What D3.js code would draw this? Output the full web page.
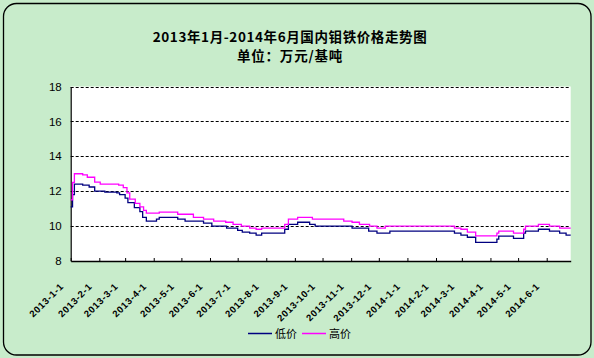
<!DOCTYPE html>
<html>
<head>
<meta charset="utf-8">
<script src="https://cdn.jsdelivr.net/npm/d3@7"></script>
<style>
  html, body { margin: 0; padding: 0; background: #C8ECCB; }
  svg { display: block; }
</style>
</head>
<body>
<svg id="chart" width="594" height="358"></svg>
<script>
// ---- data ----
const titleLine1 = "2013年1月-2014年6月国内钼铁价格走势图";
const titleLine2 = "单位：万元/基吨";
const seriesNames = ["低价", "高价"];
const seriesColors = ["#000080", "#FF00FF"];

const dates = [
  "2013-01-01","2013-01-03","2013-01-05","2013-01-14","2013-01-19","2013-01-21","2013-01-27",
  "2013-02-02","2013-02-07","2013-02-20","2013-02-22","2013-02-23","2013-02-27",
  "2013-03-01","2013-03-03","2013-03-04","2013-03-06","2013-03-11","2013-03-12","2013-03-17",
  "2013-03-20","2013-03-21","2013-03-24","2013-04-04","2013-04-07","2013-04-27",
  "2013-05-05","2013-05-14","2013-05-25","2013-06-03","2013-06-05","2013-06-18","2013-06-19",
  "2013-06-26","2013-07-01","2013-07-05","2013-07-06","2013-07-14","2013-07-21","2013-07-27",
  "2013-08-21","2013-08-25","2013-09-04","2013-09-17","2013-09-20","2013-09-23",
  "2013-10-24","2013-11-02","2013-11-10","2013-11-20","2013-11-21","2013-11-29",
  "2013-12-08","2013-12-13","2014-02-21","2014-02-28","2014-03-07","2014-03-16",
  "2014-04-08","2014-04-10","2014-04-26","2014-05-07","2014-05-09","2014-05-23",
  "2014-06-04","2014-06-15","2014-06-22","2014-06-27"
];
const lowPrice = [
  11.1,11.8,12.4,12.35,12.35,12.24,12.0,
  12.0,11.95,11.9,11.9,11.8,11.8,
  11.6,11.6,11.35,11.35,11.06,11.06,10.83,
  10.5,10.5,10.28,10.4,10.5,10.4,
  10.28,10.28,10.17,10.0,10.0,10.0,9.88,
  9.88,9.76,9.76,9.65,9.6,9.48,9.6,
  9.82,10.1,10.22,10.1,10.1,10.0,
  10.0,9.88,9.88,9.71,9.71,9.6,
  9.6,9.71,9.6,9.48,9.36,9.07,
  9.25,9.42,9.3,9.6,9.71,9.82,
  9.71,9.6,9.48,9.48
];
const highPrice = [
  11.5,12.5,13.0,12.93,12.8,12.8,12.52,
  12.4,12.4,12.4,12.35,12.35,12.2,
  12.2,11.9,11.9,11.55,11.55,11.3,11.1,
  11.1,10.9,10.74,10.74,10.8,10.68,
  10.68,10.5,10.4,10.4,10.28,10.22,10.22,
  10.1,10.1,10.0,10.0,9.88,9.82,9.88,
  10.1,10.4,10.5,10.5,10.4,10.4,
  10.28,10.22,10.1,10.1,10.0,9.88,
  10.0,10.0,9.88,9.82,9.65,9.44,
  9.6,9.71,9.6,9.82,10.0,10.1,
  10.0,9.88,9.88,9.88
];
const yTicks = [8, 10, 12, 14, 16, 18];
const xStart = "2013-01-01", xEnd = "2014-06-27";

// ---- drawing ----
const svg = d3.select("#chart");
const parse = d3.timeParse("%Y-%m-%d");
const plot = { left: 70.7, right: 570.7, top: 86.5, bottom: 261 };

// chart area border
svg.append("rect").attr("x", 3.5).attr("y", 3.5).attr("width", 587.5).attr("height", 351.5)
  .attr("rx", 13).attr("ry", 13)
  .attr("fill", "#C8ECCB").attr("stroke", "#000").attr("stroke-width", 1.3);

// titles
svg.append("text").attr("x", 290).attr("y", 41.5).attr("text-anchor", "middle")
  .attr("font-family", "'Noto Sans CJK SC', sans-serif").attr("font-weight", "bold")
  .attr("font-size", 13.5).attr("letter-spacing", 0.6).attr("fill", "#000").text(titleLine1);
svg.append("text").attr("x", 290).attr("y", 61).attr("text-anchor", "middle")
  .attr("font-family", "'Noto Sans CJK SC', sans-serif").attr("font-weight", "bold")
  .attr("font-size", 13.5).attr("letter-spacing", 0.8).attr("fill", "#000").text(titleLine2);

const x = d3.scaleTime().domain([parse(xStart), parse(xEnd)]).range([plot.left, plot.right]);
const y = d3.scaleLinear().domain([8, 18]).range([plot.bottom, plot.top]);

// plot area
svg.append("rect").attr("x", plot.left).attr("y", plot.top)
  .attr("width", plot.right - plot.left).attr("height", plot.bottom - plot.top)
  .attr("fill", "#fff");

// gridlines
svg.append("g").selectAll("line").data(yTicks.filter(d => d > 8)).join("line")
  .attr("x1", plot.left).attr("x2", plot.right)
  .attr("y1", d => Math.round(y(d)) + 0.5).attr("y2", d => Math.round(y(d)) + 0.5)
  .attr("stroke", "#000").attr("stroke-width", 1).attr("stroke-dasharray", "3,2");

// y axis
const yAxis = svg.append("g").attr("transform", `translate(${plot.left},0)`)
  .call(d3.axisLeft(y).tickValues(yTicks).tickSize(0).tickPadding(9).tickFormat(d3.format("d")));
yAxis.select(".domain").attr("stroke", "#000").attr("stroke-width", 1.2);
yAxis.selectAll("text").attr("font-family", "Arial, 'Liberation Sans', sans-serif")
  .attr("font-size", 11.5).attr("fill", "#000");

// x axis
const monthTicks = d3.timeMonth.range(parse("2013-01-01"), parse("2014-06-02"));
const xAxis = svg.append("g").attr("transform", `translate(0,${plot.bottom})`)
  .call(d3.axisBottom(x).tickValues(monthTicks).tickSize(-3).tickSizeOuter(0)
    .tickFormat(d3.timeFormat("%Y-%-m-%-d")));
xAxis.select(".domain").attr("stroke", "#000").attr("stroke-width", 1.5);
xAxis.selectAll(".tick line").attr("stroke", "#000");
xAxis.selectAll(".tick text")
  .attr("font-family", "Arial, 'Liberation Sans', sans-serif").attr("font-weight", "bold")
  .attr("font-size", 9.5).attr("letter-spacing", 0.7).attr("fill", "#000")
  .attr("text-anchor", "end").attr("dy", null).attr("y", 0)
  .attr("transform", "translate(-7,26) rotate(-45)");

// lines
const series = [lowPrice, highPrice];
const line = d3.line().curve(d3.curveStepAfter)
  .x((d, i) => x(parse(dates[i]))).y(d => y(d));
series.forEach((vals, k) => {
  svg.append("path").datum(vals).attr("d", line)
    .attr("fill", "none").attr("stroke", seriesColors[k]).attr("stroke-width", 1.3);
});

// legend
const legendX = [248, 302];
seriesNames.forEach((name, k) => {
  svg.append("line").attr("x1", legendX[k]).attr("x2", legendX[k] + 24)
    .attr("y1", 333.5).attr("y2", 333.5).attr("stroke", seriesColors[k]).attr("stroke-width", 1.5);
  svg.append("text").attr("x", legendX[k] + 27).attr("y", 337.5)
    .attr("font-family", "'Noto Sans CJK SC', sans-serif").attr("font-size", 11)
    .attr("fill", "#000").text(name);
});
</script>
</body>
</html>
